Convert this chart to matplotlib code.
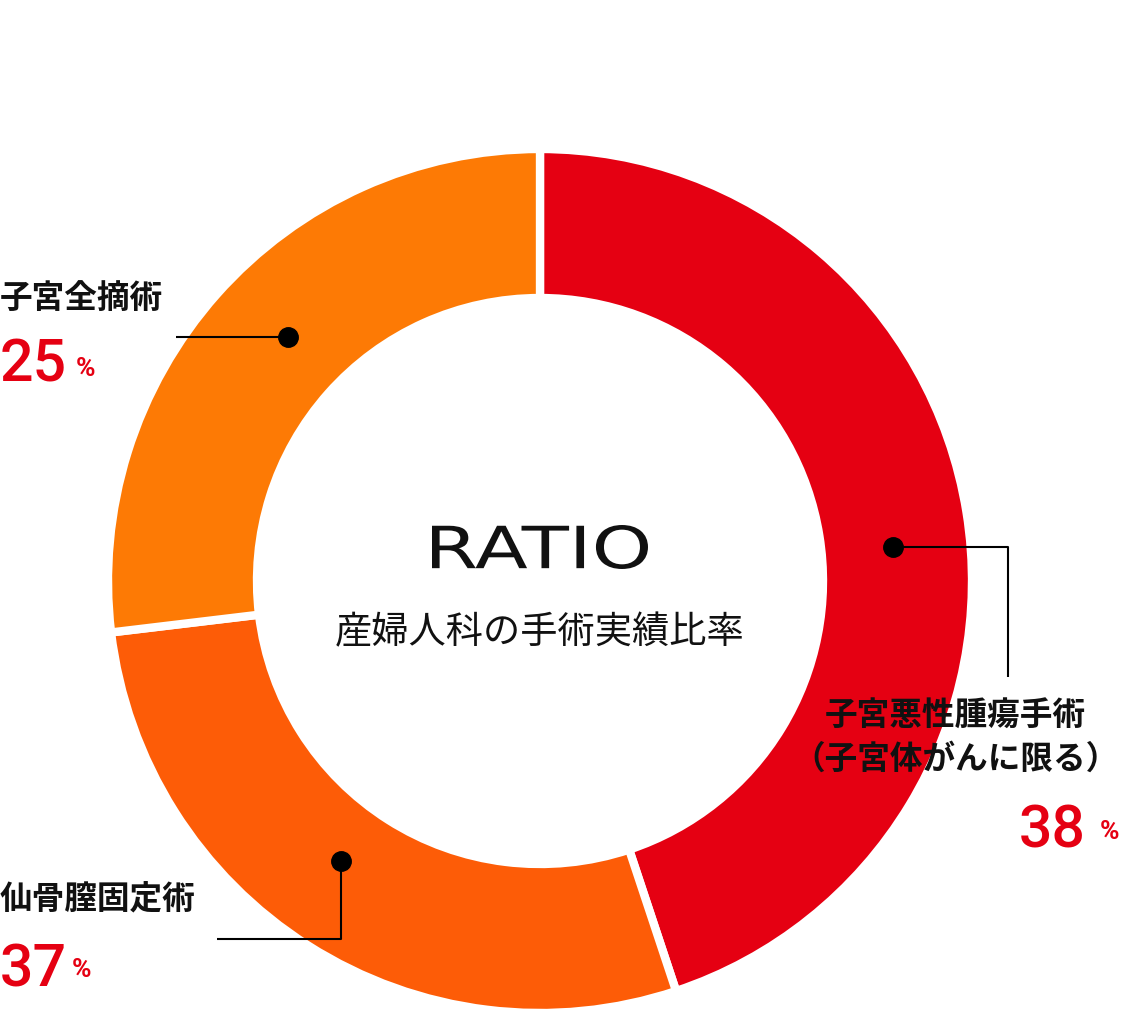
import matplotlib
matplotlib.use("Agg")
from matplotlib import pyplot as plt
from matplotlib.textpath import TextPath
from matplotlib.font_manager import FontProperties
from matplotlib.patches import PathPatch
from matplotlib.transforms import Affine2D

# data
categories = ["子宮悪性腫瘍手術\n（子宮体がんに限る）", "仙骨膣固定術", "子宮全摘術"]
pct_labels = [38, 37, 25]
arc_shares = [44.9, 28.2, 26.9]   # share of the ring as drawn
colors = ["#E50012", "#FD5C07", "#FD7A05"]
title_en = "RATIO"
title_jp = "産婦人科の手術実績比率"

W, H = 1122, 1012
JP = ["Noto Sans CJK JP", "DejaVu Sans"]
RED = "#E50012"


def Y(y):
    # pixel row (top down) -> axes y
    return H - y


fig = plt.figure(figsize=(W / 100, H / 100), dpi=100)
ax = fig.add_axes([0, 0, 1, 1])

cx, cy = 540, 582
ax.pie(arc_shares, colors=colors, startangle=90, counterclock=False,
       radius=432, center=(cx, Y(cy)),
       wedgeprops=dict(width=149, edgecolor="white", linewidth=6))

ax.set_xlim(0, W)
ax.set_ylim(0, H)
ax.set_aspect("equal")
ax.axis("off")

# RATIO: the original uses a wide square face, so stretch a text path into its box
tp = TextPath((0, 0), title_en, size=60, prop=FontProperties(family="DejaVu Sans"))
bb = tp.get_extents()
box_l, box_r, box_t, box_b = 432, 648, 526, 570
tr = (Affine2D().translate(-bb.x0, -bb.y0)
      .scale((box_r - box_l) / bb.width, (box_b - box_t) / bb.height)
      .translate(box_l, Y(box_b)))
ax.add_patch(PathPatch(tr.transform_path(tp), color="#111111", lw=0))

ax.text(cx, Y(633), title_jp, ha="center", va="center", fontsize=26.8,
        family=JP, color="#111111")


def leader(pts):
    xs = [p[0] for p in pts]
    ys = [Y(p[1]) for p in pts]
    ax.plot(xs, ys, color="black", lw=1.5, solid_capstyle="butt", zorder=3)
    ax.plot(xs[0], ys[0], "o", color="black", ms=14, zorder=4)


def pct(x, y_base, value, pct_x, pct_base):
    ax.text(x, Y(y_base), str(value), ha="left", va="baseline", fontsize=42.5,
            family="Roboto", weight="medium", color=RED)
    ax.text(pct_x, Y(pct_base), "%", ha="left", va="baseline", fontsize=19,
            family="Roboto", weight="bold", color=RED)


def label(x, y, s, ha="left"):
    ax.text(x, Y(y), s, ha=ha, va="center", fontsize=23.5,
            family=JP, weight="bold", color="#111111")


# 子宮悪性腫瘍手術
leader([(893, 548), (1008, 548), (1008, 678)])
lines = categories[0].split("\n")
label(955, 716, lines[0], ha="center")
label(955, 759, lines[1], ha="center")
pct(1019, 848, pct_labels[0], 1100, 839)

# 仙骨膣固定術
leader([(341, 862), (341, 940), (217, 940)])
label(0, 900, categories[1])
pct(0, 987, pct_labels[1], 72, 977)

# 子宮全摘術
leader([(288, 338), (176, 338)])
label(0, 298, categories[2])
pct(0, 382, pct_labels[2], 76, 376)

fig.savefig("out.png", dpi=100)
